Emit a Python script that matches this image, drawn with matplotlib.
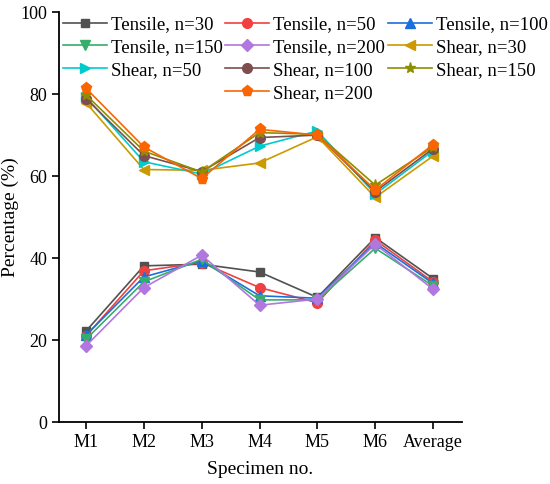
import matplotlib.pyplot as plt
from matplotlib.lines import Line2D

plt.rcParams['font.family'] = ['Liberation Serif', 'DejaVu Serif']

specimens = ["M1", "M2", "M3", "M4", "M5", "M6", "Average"]

# percentage values
tensile_30 = [22.2, 38.1, 38.5, 36.6, 30.4, 45.0, 35.0]
tensile_50 = [21.0, 36.9, 38.9, 32.8, 29.1, 44.4, 34.2]
tensile_100 = [21.2, 35.4, 39.3, 30.8, 30.2, 43.7, 33.8]
tensile_150 = [20.2, 34.2, 39.7, 29.8, 29.8, 42.4, 33.2]
tensile_200 = [18.6, 32.8, 40.7, 28.5, 30.0, 43.4, 32.4]
shear_30 = [77.9, 61.6, 61.4, 63.2, 69.6, 54.8, 64.9]
shear_50 = [79.3, 63.5, 60.5, 67.3, 71.0, 55.6, 66.2]
shear_100 = [78.9, 65.0, 61.1, 69.4, 70.0, 56.2, 66.7]
shear_150 = [79.8, 66.1, 61.0, 70.6, 70.2, 57.8, 67.1]
shear_200 = [81.4, 67.1, 59.4, 71.4, 70.0, 56.6, 67.7]

series = [
    ("Tensile, n=30", tensile_30, "#515151", "s", 6),
    ("Tensile, n=50", tensile_50, "#F14040", "o", 7),
    ("Tensile, n=100", tensile_100, "#1A6FDF", "^", 7),
    ("Tensile, n=150", tensile_150, "#37AD6B", "v", 7),
    ("Tensile, n=200", tensile_200, "#B177DE", "D", 6),
    ("Shear, n=30", shear_30, "#CC9900", "<", 7),
    ("Shear, n=50", shear_50, "#00CBCC", ">", 7),
    ("Shear, n=100", shear_100, "#7D4E4E", "o", 7),
    ("Shear, n=150", shear_150, "#8E8E00", "*", 8),
    ("Shear, n=200", shear_200, "#FB6501", "p", 8),
]

fig = plt.figure(figsize=(5.5, 4.84), dpi=100)
ax = fig.add_axes([0.107, 0.128, 0.733, 0.847])

x = list(range(1, len(specimens) + 1))
handles = {}
for label, vals, col, mk, ms in series:
    h, = ax.plot(x, vals, color=col, marker=mk, markersize=ms, lw=1.2,
                 label=label)
    handles[label] = h

ax.set_xlim(0.53, 7.5)
ax.set_ylim(0, 100)
ax.set_xticks(x)
ax.set_xticklabels(specimens)
ax.set_yticks([0, 20, 40, 60, 80, 100])
ax.spines['top'].set_visible(False)
ax.spines['right'].set_visible(False)
for s in ['left', 'bottom']:
    ax.spines[s].set_linewidth(1.3)
ax.tick_params(direction='out', length=5, width=1.2, labelsize=13)
ax.set_xlabel("Specimen no.", fontsize=14, labelpad=7)
ax.set_ylabel("Percentage (%)", fontsize=14, labelpad=1)

# legend laid out row by row like the original (3 columns)
blank = Line2D([], [], linestyle='none', marker='none')
order = ["Tensile, n=30", "Tensile, n=150", "Shear, n=50", None,
         "Tensile, n=50", "Tensile, n=200", "Shear, n=100", "Shear, n=200",
         "Tensile, n=100", "Shear, n=30", "Shear, n=150"]
hs = [handles[k] if k else blank for k in order]
ls = [k if k else "" for k in order]
ax.legend(hs, ls, ncol=3, loc='upper left', bbox_to_anchor=(-0.018, 1.018),
          frameon=False, fontsize=13.5, handlelength=2.35, handletextpad=0.2,
          columnspacing=0.15, labelspacing=0.31, borderaxespad=0.2)

plt.savefig("out.png", dpi=100)
